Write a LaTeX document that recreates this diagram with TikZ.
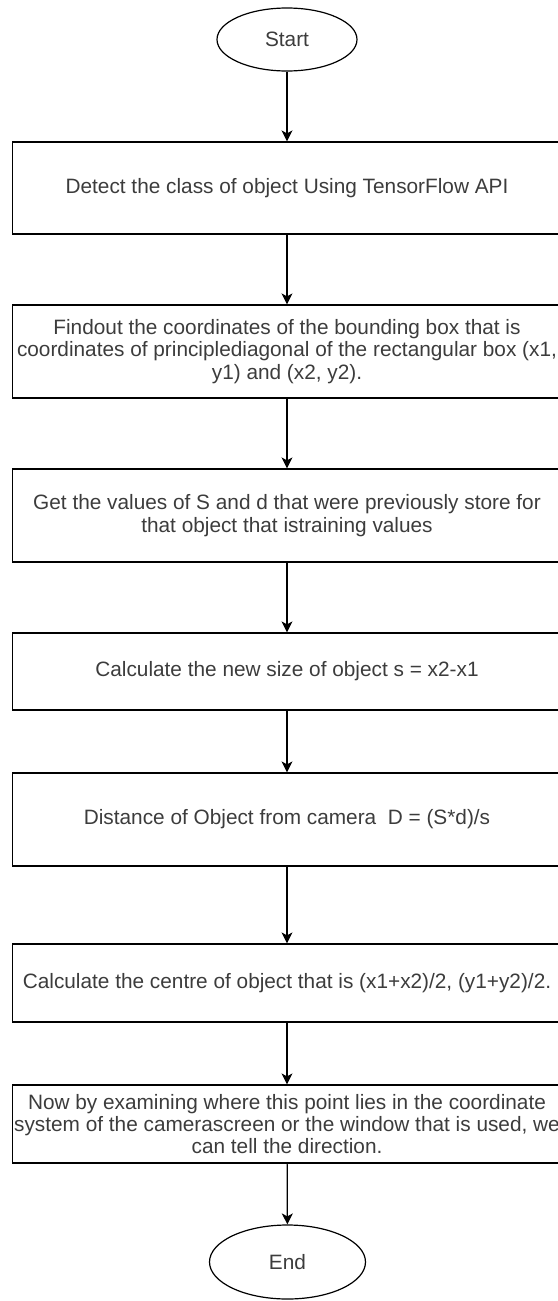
\documentclass[tikz,border=0pt]{standalone}
\usepackage{fontspec}
\setmainfont{Liberation Sans}
\usetikzlibrary{arrows.meta,shapes.geometric}
\definecolor{txt}{RGB}{60,60,60}
\begin{document}
\begin{tikzpicture}[x=1pt,y=-1pt,
  procbox/.style={draw=black, line width=1.2pt, minimum width=548.6pt, inner sep=0pt, align=center, text=txt, font=\fontsize{20.8}{22.3}\selectfont},
  termnode/.style={draw=black, line width=1.2pt, ellipse, inner sep=0pt, text=txt, font=\fontsize{20.8}{22.3}\selectfont},
  flow/.style={-{Stealth[length=11pt,width=11pt,inset=3pt]}, line width=1.2pt}]
\useasboundingbox (0,0) rectangle (557,1301);
\node[termnode, minimum width=140pt, minimum height=63pt] (start) at (287,39.5) {Start};
\node[procbox, minimum height=92pt] (b1) at (287,188) {Detect the class of object Using TensorFlow API};
\node[procbox, minimum height=93pt] (b2) at (287,351.5) {Findout the coordinates of the bounding box that is\\coordinates of principlediagonal of the rectangular box (x1,\\y1) and (x2, y2).};
\node[procbox, minimum height=93pt] (b3) at (287,515.5) {Get the values of S and d that were previously store for\\that object that istraining values};
\node[procbox, minimum height=77pt] (b4) at (287,671.5) {Calculate the new size of object s = x2-x1};
\node[procbox, minimum height=93pt] (b5) at (287,819.5) {Distance of Object from camera\ \ D = (S*d)/s};
\node[procbox, minimum height=78pt] (b6) at (287,983) {Calculate the centre of object that is (x1+x2)/2, (y1+y2)/2.};
\node[procbox, minimum height=78pt] (b7) at (287,1124) {Now by examining where this point lies in the coordinate\\system of the camerascreen or the window that is used, we\\can tell the direction.};
\node[termnode, minimum width=156pt, minimum height=74pt] (end) at (287.5,1262) {End};
\draw[flow] (start) -- (b1);
\draw[flow] (b1) -- (b2);
\draw[flow] (b2) -- (b3);
\draw[flow] (b3) -- (b4);
\draw[flow] (b4) -- (b5);
\draw[flow] (b5) -- (b6);
\draw[flow] (b6) -- (b7);
\draw[flow] (b7) -- (end);
\end{tikzpicture}
\end{document}
